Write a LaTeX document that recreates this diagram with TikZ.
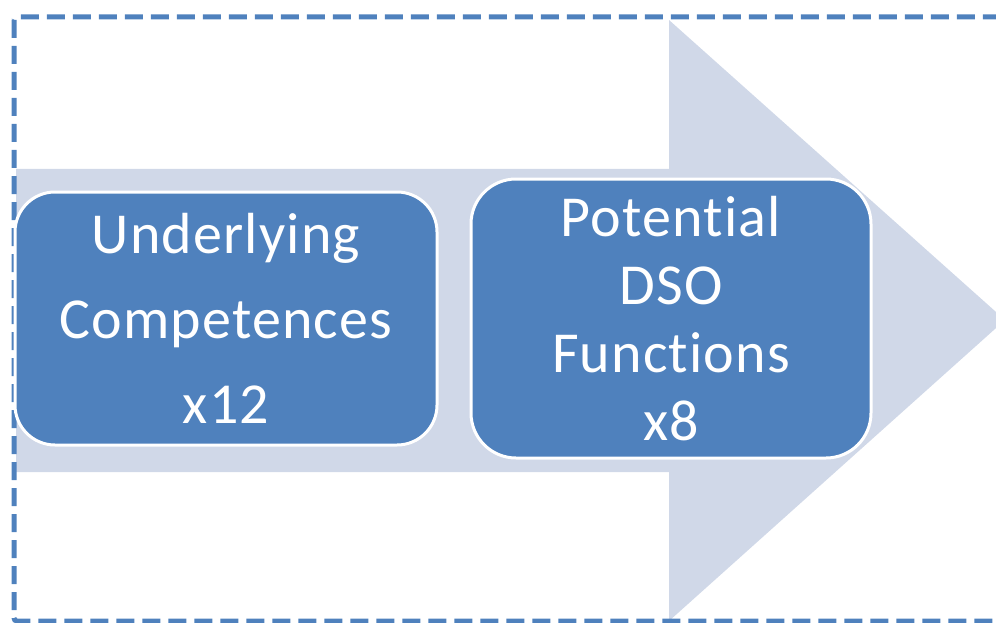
\documentclass[tikz,border=0pt]{standalone}
\usepackage{fontspec}
\setmainfont{Carlito}
\newfontfamily\boxfont{Carlito}[LetterSpace=2, Ligatures={NoCommon}]
\usetikzlibrary{positioning}
\definecolor{boxblue}{HTML}{4F81BD}
\definecolor{arrowgray}{HTML}{D0D8E8}

\begin{document}
\begin{tikzpicture}[x=1pt, y=-1pt]
\tikzset{box/.style={draw=white, line width=3pt, fill=boxblue, text=white, align=center, inner sep=0pt}}
\useasboundingbox (0,0) rectangle (996,623);
\clip (0,0) rectangle (996,623);
% big arrow behind the boxes
\fill[arrowgray] (16,169) -- (669,169) -- (669,20) -- (1005,320) -- (669,621) -- (669,472) -- (16,472) -- cycle;
\draw[boxblue, line width=5pt, dash pattern=on 18pt off 8pt, rounded corners=3pt] (14,17) rectangle (1012,621);
\node[box, rounded corners=40pt, minimum width=422pt, minimum height=253pt, font=\boxfont\fontsize{58}{85}\selectfont] (comp) at (226,318.5) {Underlying\\Competences\\x12};
\node[box, rounded corners=45pt, minimum width=400pt, minimum height=279pt, font=\boxfont\fontsize{58}{68}\selectfont, right=31pt of comp] (func) {Potential\\DSO\\Functions\\x8};
\end{tikzpicture}
\end{document}
